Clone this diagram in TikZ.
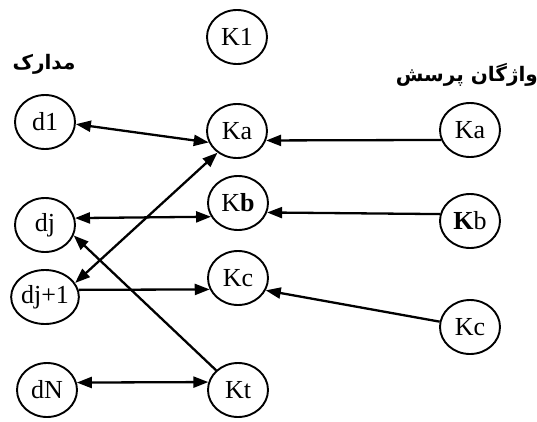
\documentclass[tikz,border=0pt]{standalone}
\usepackage{fontspec}
\setmainfont{Liberation Serif}
\newfontfamily\arabicfont[Script=Arabic]{DejaVu Sans}
\TeXXeTstate=1
\usetikzlibrary{shapes.geometric,arrows.meta}
\begin{document}
\begin{tikzpicture}[x=1pt,y=-1pt,
  term/.style={draw,ellipse,line width=1.9pt,minimum width=60pt,minimum height=54pt,inner sep=0pt,font=\fontsize{26}{26}\selectfont},
  link/.style={line width=2.3pt,-{Triangle[length=15pt,width=11pt]}},
  both/.style={line width=2.3pt,{Triangle[length=15pt,width=11pt]}-{Triangle[length=15pt,width=11pt]}},
  head/.style={inner sep=0pt,font=\arabicfont\bfseries\fontsize{20}{20}\selectfont}]
\useasboundingbox (0,0) rectangle (537,421);
% headings
\node[head] (hdocs) at (44,64) {\beginR مدارک\endR};
\node[head,anchor=east] (hterms) at (538,75) {\beginR واژگان پرسش\endR};
% left column
\node[term] (d1) at (45,122) {d1};
\node[term] (dj) at (45,225) {dj};
\node[term] (djp) at (45,297) {dj+1};
\node[term] (dN) at (47,390) {dN};
% middle column
\node[term] (K1) at (237,37) {K1};
\node[term] (Ka) at (237,131) {Ka};
\node[term] (Kb) at (238,203) {K\textbf{b}};
\node[term] (Kc) at (238,278) {Kc};
\node[term] (Kt) at (238,390) {Kt};
% right column
\node[term] (rKa) at (470,130) {Ka};
\node[term] (rKb) at (470,221) {\textbf{K}b};
\node[term] (rKc) at (470,327) {Kc};
% connectors
\draw[both] (d1.-4) -- (Ka.202);
\draw[link] (rKa.199) -- (Ka.-18);
\draw[both] (dj.13) -- (Kb.207);
\draw[link] (rKb.167) -- (Kb.-18);
\draw[link] (djp.12) -- (Kc.202);
\draw[link] (rKc.170) -- (Kc.-24);
\draw[both] (djp.25) -- (Ka.228);
\draw[link] (Kt.138) -- (dj.-20);
\draw[both] (dN.14) -- (Kt.165);
\end{tikzpicture}
\end{document}
